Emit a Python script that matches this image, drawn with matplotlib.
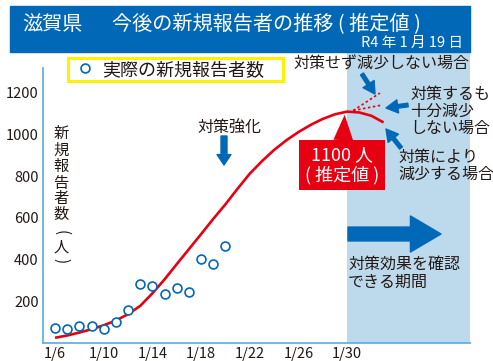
import matplotlib
matplotlib.use('Agg')
import matplotlib.pyplot as plt
from matplotlib.patches import Rectangle

plt.rcParams['font.family'] = ['Noto Sans CJK JP', 'DejaVu Sans']

W, H = 493, 361


def fp(x, y):
    """pixel position (from top-left) -> figure fraction"""
    return (x / W, 1 - y / H)


# ---------------- data ----------------
actual_days = list(range(6, 21))
actual_values = [73, 67, 82, 82, 66, 100, 158, 283, 273, 235, 264, 245, 405, 378, 465]

est_days = list(range(6, 34))
est_values = [25, 36, 50, 66, 85, 108, 138, 178, 238, 305, 378, 450, 522, 595,
              665, 740, 812, 872, 926, 972, 1012, 1046, 1075, 1097, 1110, 1106,
              1090, 1058]

nomeasure_days = [30.5, 32.7]
nomeasure_values = [1115, 1199]
weak_days = [30.5, 32.9]
weak_values = [1115, 1142]

xtick_days = [6, 10, 14, 18, 22, 26, 30]
xtick_labels = ['1/6', '1/10', '1/14', '1/18', '1/22', '1/26', '1/30']
ytick_values = [200, 400, 600, 800, 1000, 1200]

check_start = 30
peak_label = '1100 人\n( 推定値 )'

BLUE = '#0068b7'
LIGHT = '#bdd9ec'
RED = '#e60012'
SPINE = '#62b3e3'
TXT = '#231815'
YELLOW = '#fff100'

fig = plt.figure(figsize=(W / 100, H / 100), dpi=100)
ax = fig.add_axes([43 / W, 18 / H, 427 / W, (343 - 52) / H])
ax.set_xlim(5.014, 40.1)
ax.set_ylim(0, 1396)

for s in ['top', 'right']:
    ax.spines[s].set_visible(False)
for s in ['left', 'bottom']:
    ax.spines[s].set_color(SPINE)
    ax.spines[s].set_linewidth(1.3)
ax.spines['left'].set_bounds(0, 1319)

ax.set_xticks(xtick_days)
ax.set_xticklabels(xtick_labels)
ax.set_yticks(ytick_values)
ax.tick_params(length=0, labelsize=10.5, colors=TXT, pad=3)

ax.axvspan(check_start, 40.1, color=LIGHT, lw=0, zorder=0)

# estimated curve
ax.plot(est_days, est_values, color=RED, lw=1.9, zorder=3, solid_capstyle='butt')
ax.plot(nomeasure_days, nomeasure_values, color=RED, lw=1.2, ls=(0, (1.5, 1.5)), zorder=3)
ax.plot(weak_days, weak_values, color=RED, lw=1.2, ls=(0, (1.5, 1.5)), zorder=3)

# actual
ax.plot(actual_days, actual_values, ls='none', marker='o', ms=6.4, mfc='white',
        mec=BLUE, mew=1.2, zorder=4, label='実際の新規報告者数')

leg = ax.legend(loc='upper left', bbox_to_anchor=(68 / W, 1 - 83 / H, 215 / W, 25 / H),
                bbox_transform=fig.transFigure, mode='expand',
                fontsize=13, frameon=True, fancybox=False, borderpad=0.15,
                handlelength=1.6, handletextpad=0.12, borderaxespad=0, framealpha=1)
leg.get_frame().set_edgecolor(YELLOW)
leg.get_frame().set_linewidth(2.2)
for t in leg.get_texts():
    t.set_color(TXT)

# title bar
fig.patches.append(Rectangle(fp(10, 52), 460 / W, 46 / H, transform=fig.transFigure,
                             color=BLUE, zorder=5))
fig.text(*fp(22, 24), '滋賀県', color='white', fontsize=14.5, va='center', ha='left', zorder=6)
fig.text(*fp(112, 24), '今後の新規報告者の推移 ( 推定値 )', color='white', fontsize=14.5,
         va='center', ha='left', zorder=6)
fig.text(*fp(463, 43), 'R4 年 1 月 19 日', color='white', fontsize=10.5,
         va='center', ha='right', zorder=6)

# vertical y label
ylab_chars = ['新', '規', '報', '告', '者', '数', '(', '人', ')']
ylab_pos = [133, 150, 166, 183, 199, 215, 233, 247, 261]
for ch, yy in zip(ylab_chars, ylab_pos):
    rot = -90 if ch in '()' else 0
    fig.text(*fp(61, yy), ch, fontsize=11, color=TXT, ha='center', va='center',
             rotation=rot)

# 対策強化
fig.text(*fp(229, 128), '対策強化', fontsize=11.5, color=TXT, ha='center', va='center')
ax.annotate('', xy=fp(224, 165), xycoords='figure fraction', xytext=fp(224, 136),
            textcoords='figure fraction',
            arrowprops=dict(arrowstyle='simple,head_length=7.5,head_width=10,tail_width=4.3',
                            mutation_scale=1, color=BLUE, shrinkA=0, shrinkB=0))

# peak label box
pk = est_values.index(max(est_values))
ax.annotate(peak_label, xy=(est_days[pk] - 0.2, est_values[pk] - 15), xycoords='data',
            xytext=fp(342, 165), textcoords='figure fraction',
            fontsize=13, color='white', ha='center', va='center', linespacing=1.15,
            bbox=dict(boxstyle='square,pad=0.3', fc=RED, ec='none'),
            arrowprops=dict(arrowstyle='wedge,tail_width=1.1', mutation_scale=13,
                            fc=RED, ec='none', shrinkA=0, shrinkB=0),
            zorder=6)

# scenario texts
fig.text(*fp(293, 64), '対策せず減少しない場合', fontsize=11.5, color=TXT, ha='left', va='center')
fig.text(*fp(410, 111), '対策するも\n十分減少\nしない場合', fontsize=11.5, color=TXT,
         ha='left', va='center', linespacing=1.0)
fig.text(*fp(398, 166), '対策により\n減少する場合', fontsize=11.5, color=TXT,
         ha='left', va='center', linespacing=1.0)
fig.text(*fp(348, 273), '対策効果を確認\nできる期間', fontsize=11.5, color=TXT,
         ha='left', va='center', linespacing=1.1)

small = dict(arrowstyle='simple,head_length=8.5,head_width=9.5,tail_width=2.6',
             mutation_scale=1, color=BLUE, shrinkA=0, shrinkB=0)
for (x0, y0), (x1, y1) in [((362, 74), (375, 94)), ((408, 105), (386, 108)),
                           ((401, 148), (386, 129))]:
    ax.annotate('', xy=fp(x1, y1), xycoords='figure fraction', xytext=fp(x0, y0),
                textcoords='figure fraction', arrowprops=small)

# big arrow
ax.annotate('', xy=fp(441, 234), xycoords='figure fraction', xytext=fp(348, 234),
            textcoords='figure fraction',
            arrowprops=dict(arrowstyle='simple,head_length=22,head_width=26,tail_width=10',
                            mutation_scale=1, color=BLUE, shrinkA=0, shrinkB=0))

fig.savefig('out.png', dpi=100)
